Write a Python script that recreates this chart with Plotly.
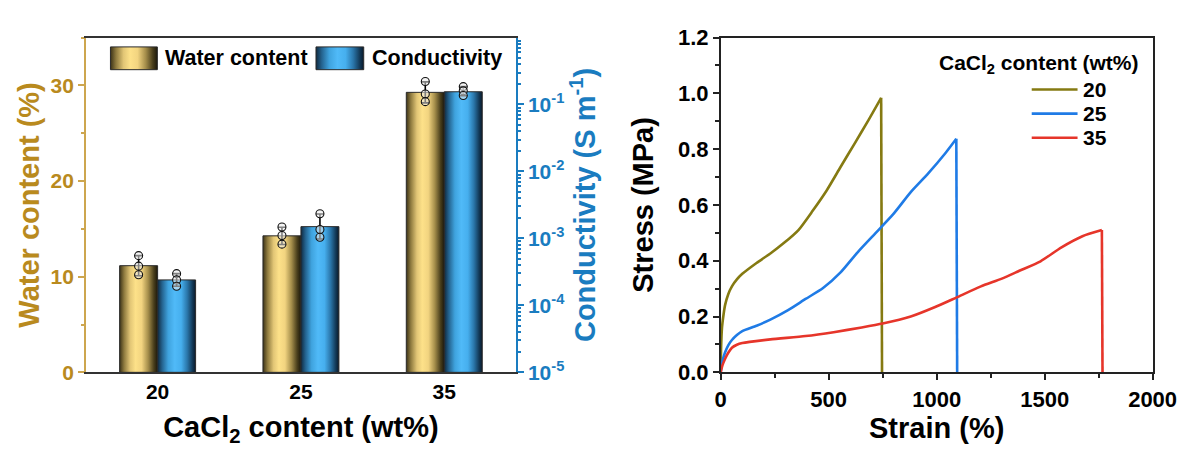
import plotly.graph_objects as go

# ---------------- data ----------------
cacl2_levels = ["20", "25", "35"]

water_mean = [11.15, 14.27, 29.27]          # %
water_sd = [1.05, 0.9, 1.1]
water_points = [[12.2, 11.1, 10.2], [15.2, 14.3, 13.4], [30.4, 29.1, 28.3]]

cond_mean = [2.4e-4, 1.5e-3, 0.155]          # S m^-1
cond_err_plus = [0.58e-4, 0.82e-3, 0.03]
cond_err_minus = [0.47e-4, 0.52e-3, 0.02]
cond_points = [[2.98e-4, 2.4e-4, 1.93e-4], [2.33e-3, 1.36e-3, 1.04e-3], [0.185, 0.16, 0.136]]

# stress-strain curves (strain %, stress MPa); last point = after fracture
strain_20 = [0, 2, 6, 12, 20, 35, 52, 75, 100, 166, 230, 295, 360, 425, 490, 555, 620, 685, 743, 747]
stress_20 = [0, 0.09, 0.16, 0.2, 0.24, 0.28, 0.308, 0.333, 0.353, 0.392, 0.426, 0.465, 0.51, 0.578,
             0.651, 0.736, 0.82, 0.905, 0.984, 0]
strain_25 = [0, 8, 20, 35, 52, 75, 100, 166, 230, 312, 393, 474, 555, 636, 717, 799, 880, 961,
             1042, 1091, 1095]
stress_25 = [0, 0.04, 0.071, 0.097, 0.116, 0.134, 0.148, 0.167, 0.189, 0.223, 0.263, 0.302, 0.358,
             0.432, 0.499, 0.567, 0.646, 0.713, 0.787, 0.837, 0]
strain_35 = [0, 8, 20, 35, 52, 75, 100, 230, 393, 523, 653, 750, 880, 993, 1091, 1205, 1302, 1383,
             1481, 1578, 1675, 1765, 1768]
stress_35 = [0, 0.025, 0.048, 0.07, 0.088, 0.099, 0.105, 0.118, 0.13, 0.144, 0.161, 0.175, 0.2,
             0.234, 0.268, 0.308, 0.336, 0.364, 0.398, 0.448, 0.488, 0.51, 0]

curve_labels = ["20", "25", "35"]
legend_title = "CaCl<sub>2</sub> content (wt%)"

# ---------------- styling ----------------
FONT = "Arial, 'Liberation Sans', sans-serif"
GOLD = "#B98A1E"
GOLD_LINE = "#CDA64F"
BLUE_AX = "#1A7CC0"
DARK = "#222222"
CURVE_COLORS = ["#857A12", "#1F7BE6", "#E6352A"]

gold_scale = [[0.0, "#3b3217"], [0.12, "#8f7b3f"], [0.28, "#e2c676"], [0.42, "#fde189"],
              [0.58, "#f2d480"], [0.75, "#a58e4b"], [0.9, "#4a3f1c"], [1.0, "#1c180b"]]
blue_scale = [[0.0, "#102a40"], [0.12, "#24638f"], [0.28, "#3fa3de"], [0.45, "#50baf8"],
              [0.62, "#46afee"], [0.78, "#2a76aa"], [0.92, "#123856"], [1.0, "#09192a"]]

BAR_W = 0.265
LOG_MIN, LOG_MAX = -5, 0
W, H = 1201, 461

fig = go.Figure()

x_idx = list(range(len(cacl2_levels)))


def add_bars(values, offset, scale, yaxis, base):
    for i, v in zip(x_idx, values):
        x0 = i + offset - BAR_W / 2
        x1 = i + offset + BAR_W / 2
        fig.add_trace(go.Scatter(
            x=[x0, x0, x1, x1, x0], y=[base, v, v, base, base],
            mode="lines", fill="toself",
            fillgradient=dict(type="horizontal", colorscale=scale),
            line=dict(color="#2a2a2a", width=1),
            xaxis="x", yaxis=yaxis, showlegend=False, hoverinfo="skip"))


def add_errors(values, err_plus, err_minus, points, offset, yaxis):
    xs = [i + offset for i in x_idx]
    fig.add_trace(go.Scatter(
        x=xs, y=values, mode="markers", marker=dict(size=0.1, color="rgba(0,0,0,0)"),
        error_y=dict(type="data", symmetric=False, array=err_plus, arrayminus=err_minus,
                     color="black", thickness=1.6, width=4),
        xaxis="x", yaxis=yaxis, showlegend=False, hoverinfo="skip"))
    px, py = [], []
    for xv, pts in zip(xs, points):
        px += [xv] * len(pts)
        py += pts
    fig.add_trace(go.Scatter(
        x=px, y=py, mode="markers",
        marker=dict(size=8, color="rgba(235,235,235,0.55)", line=dict(color="#111", width=1.1)),
        xaxis="x", yaxis=yaxis, showlegend=False, hoverinfo="skip"))


add_bars(water_mean, -BAR_W / 2, gold_scale, "y", 0)
add_bars(cond_mean, BAR_W / 2, blue_scale, "y2", 10 ** LOG_MIN)
add_errors(water_mean, water_sd, water_sd, water_points, -BAR_W / 2, "y")
add_errors(cond_mean, cond_err_plus, cond_err_minus, cond_points, BAR_W / 2, "y2")

# legend swatches for the bar chart, on a hidden overlay axis pair (0..1 in both directions)
swatches = [("Water content", gold_scale, 0.057, 0.166, 161), ("Conductivity", blue_scale, 0.535, 0.646, 373)]
for name, scale, a, b, tx in swatches:
    fig.add_trace(go.Scatter(
        x=[a, a, b, b, a], y=[0.904, 0.972, 0.972, 0.904, 0.904], mode="lines", fill="toself",
        fillgradient=dict(type="horizontal", colorscale=scale),
        line=dict(color="#2a2a2a", width=1), xaxis="x3", yaxis="y4",
        showlegend=False, hoverinfo="skip"))
    fig.add_annotation(x=tx / W, y=1 - 49 / H, xref="paper", yref="paper", text=name,
                       showarrow=False, xanchor="left", yanchor="middle",
                       font=dict(family=FONT, size=21.5, color="black", weight="bold"))

# stress-strain curves: smooth loading part + straight drop at fracture
curves = [(strain_20, stress_20), (strain_25, stress_25), (strain_35, stress_35)]
for name, (sx, sy), col in zip(curve_labels, curves, CURVE_COLORS):
    fig.add_trace(go.Scatter(x=sx[:-1], y=sy[:-1], mode="lines", name=name,
                             line=dict(color=col, width=2.6, shape="spline", smoothing=0.6),
                             xaxis="x2", yaxis="y3", showlegend=False, legendgroup=name))
    fig.add_trace(go.Scatter(x=sx[-2:], y=sy[-2:], mode="lines", name=name,
                             line=dict(color=col, width=2.6),
                             xaxis="x2", yaxis="y3", showlegend=False, legendgroup=name))

# legend of the stress-strain panel
fig.add_annotation(x=955 / W, y=1 - 55 / H, xref="paper", yref="paper", text=legend_title,
                   showarrow=False, xanchor="left", yanchor="middle",
                   font=dict(family=FONT, size=21, color="black", weight="bold"))
for k, (name, col) in enumerate(zip(curve_labels, CURVE_COLORS)):
    yrow = 1 - (82 + 25.5 * k) / H
    fig.add_shape(type="line", xref="paper", yref="paper", x0=1052 / W, x1=1099 / W,
                  y0=yrow, y1=yrow, line=dict(color=col, width=2.6))
    fig.add_annotation(x=1103 / W, y=yrow, xref="paper", yref="paper", text=name,
                       showarrow=False, xanchor="left", yanchor="middle",
                       font=dict(family=FONT, size=21, color="black", weight="bold"))

# ---------------- layout ----------------
L_DOM = [82 / W, 523 / W]
R_DOM = [733 / W, 1176 / W]
Y_DOM = [80 / H, 434 / H]

tick_font = dict(family=FONT, size=21, color="black", weight="bold")
tick_font_r = dict(family=FONT, size=22, color="black", weight="bold")
title_font = dict(family=FONT, size=29, color="black", weight="bold")

log_minor = [k * 10 ** e for e in range(LOG_MIN, LOG_MAX) for k in range(2, 10)]

fig.update_layout(
    width=W, height=H, margin=dict(l=0, r=0, t=0, b=0),
    paper_bgcolor="white", plot_bgcolor="rgba(0,0,0,0)",
    font=dict(family=FONT, color="black"),
    showlegend=False,
    xaxis=dict(domain=L_DOM, anchor="y", range=[-0.5, 2.5], tickmode="array",
               tickvals=x_idx, ticktext=cacl2_levels, ticks="", showgrid=False,
               zeroline=False, showline=True, linecolor="#333", linewidth=1.6, mirror=True,
               tickfont=tick_font,
               title=dict(text="CaCl<sub>2</sub> content (wt%)", font=title_font, standoff=14)),
    yaxis=dict(domain=Y_DOM, anchor="x", range=[0, 35], tickmode="linear", tick0=0, dtick=10,
               ticks="outside", ticklen=6, tickwidth=1.5, tickcolor=GOLD_LINE,
               minor=dict(dtick=5, ticks="outside", ticklen=3.5, tickcolor=GOLD_LINE, showgrid=False),
               showline=True, linecolor=GOLD_LINE, linewidth=1.6, showgrid=False, zeroline=False,
               tickfont=dict(family=FONT, size=21, color=GOLD, weight="bold"),
               title=dict(text="Water content (%)", font=dict(family=FONT, size=29, color=GOLD, weight="bold"),
                          standoff=2)),
    yaxis2=dict(overlaying="y", side="right", anchor="x", type="log", range=[LOG_MIN, LOG_MAX],
                tickmode="array", tickvals=[10 ** e for e in range(LOG_MIN, LOG_MAX)],
                ticktext=["10<sup>%d</sup>" % e for e in range(LOG_MIN, LOG_MAX)],
                ticks="outside", ticklen=6, tickwidth=1.5, tickcolor=BLUE_AX,
                minor=dict(tickmode="array", tickvals=log_minor, ticks="outside", ticklen=3.5,
                           tickcolor=BLUE_AX, showgrid=False),
                showline=True, linecolor=BLUE_AX, linewidth=1.6, showgrid=False, zeroline=False,
                tickfont=dict(family=FONT, size=21, color=BLUE_AX, weight="bold"),
                title=dict(text="Conductivity (S m<sup>-1</sup>)",
                           font=dict(family=FONT, size=29, color=BLUE_AX, weight="bold"), standoff=6)),
    xaxis3=dict(domain=L_DOM, anchor="y4", range=[0, 1], visible=False, fixedrange=True),
    yaxis4=dict(domain=Y_DOM, anchor="x3", range=[0, 1], visible=False, fixedrange=True),
    xaxis2=dict(domain=R_DOM, anchor="y3", range=[0, 2000], tickmode="linear", tick0=0, dtick=500,
                ticks="outside", ticklen=6, tickwidth=1.5, tickcolor=DARK,
                minor=dict(dtick=250, ticks="outside", ticklen=3.5, tickcolor=DARK, showgrid=False),
                showline=True, linecolor=DARK, linewidth=1.6, mirror=True, showgrid=False,
                zeroline=False, tickfont=tick_font_r,
                title=dict(text="Strain (%)", font=title_font, standoff=6)),
    yaxis3=dict(domain=Y_DOM, anchor="x2", range=[0, 1.2], tickmode="linear", tick0=0, dtick=0.2,
                tickformat=".1f", ticks="outside", ticklen=6, tickwidth=1.5, tickcolor=DARK,
                minor=dict(dtick=0.1, ticks="outside", ticklen=3.5, tickcolor=DARK, showgrid=False),
                showline=True, linecolor=DARK, linewidth=1.6, mirror=True, showgrid=False,
                zeroline=False, tickfont=tick_font_r,
                title=dict(text="Stress (MPa)", font=title_font, standoff=16)),
)

fig.write_html("out.html")
